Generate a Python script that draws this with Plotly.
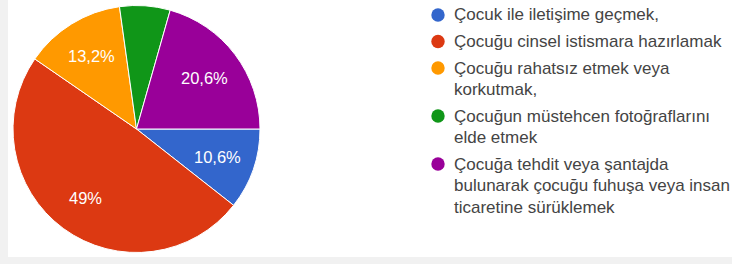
import math
import plotly.graph_objects as go

labels = [
    "Çocuk ile iletişime geçmek,",
    "Çocuğu cinsel istismara hazırlamak",
    "Çocuğu rahatsız etmek veya\nkorkutmak,",
    "Çocuğun müstehcen fotoğraflarını\nelde etmek",
    "Çocuğa tehdit veya şantajda\nbulunarak çocuğu fuhuşa veya insan\nticaretine sürüklemek",
]
values = [10.6, 49.0, 13.2, 6.6, 20.6]
colors = ["#3366cc", "#dc3912", "#ff9900", "#109618", "#990099"]

W, H = 732, 264
FONT = "Liberation Sans, Arial, sans-serif"

# pie geometry (pixels, y downward)
cx, cy, R = 136.5, 129.0, 123.5

fig = go.Figure()
fig.add_trace(go.Pie(
    labels=[l.replace("\n", " ") for l in labels],
    values=values,
    textinfo="none",
    marker=dict(colors=colors, line=dict(color="white", width=1)),
    sort=False,
    direction="clockwise",
    rotation=90,
    showlegend=False,
    domain=dict(x=[(cx - R) / W, (cx + R) / W], y=[(H - cy - R) / H, (H - cy + R) / H]),
    hoverinfo="label+percent",
))

shapes = [dict(type="rect", xref="paper", yref="paper", x0=8 / W, x1=1, y0=(H - 257) / H, y1=1,
               fillcolor="white", line=dict(width=0), layer="below")]
annotations = []

# slice percentage labels at mid-angle of each slice
total = sum(values)
start = 0.0
for v in values:
    ang = (start + v / 2) / total * 2 * math.pi
    start += v
    if v / total < 0.08:
        continue
    x = cx + 0.69 * R * math.cos(ang)
    y = cy + 0.69 * R * math.sin(ang)
    annotations.append(dict(text=f"{v:g}".replace(".", ",") + "%", xref="paper", yref="paper",
                            x=x / W, y=(H - y) / H, xanchor="center", yanchor="middle",
                            showarrow=False, font=dict(family=FONT, size=16.5, color="white")))

# legend
line_h = 21.5
entry_gap = 5.0
y = 15.0
for lab, col in zip(labels, colors):
    mx, r = 438.0, 6.7
    shapes.append(dict(type="circle", xref="paper", yref="paper",
                       x0=(mx - r) / W, x1=(mx + r) / W, y0=(H - y - r) / H, y1=(H - y + r) / H,
                       fillcolor=col, line=dict(width=0)))
    lines = lab.split("\n")
    for i, ln in enumerate(lines):
        yy = y + i * line_h
        annotations.append(dict(text=ln, xref="paper", yref="paper", x=452 / W, y=(H - yy) / H,
                                xanchor="left", yanchor="middle", showarrow=False,
                                font=dict(family=FONT, size=17, color="#444444")))
    y += len(lines) * line_h + entry_gap

fig.update_layout(
    width=W, height=H,
    margin=dict(l=0, r=0, t=0, b=0),
    paper_bgcolor="#f1f1f1",
    plot_bgcolor="white",
    shapes=shapes,
    annotations=annotations,
)
fig.write_html("out.html", config={"displayModeBar": False},
               post_script="document.body.style.margin='0';")
